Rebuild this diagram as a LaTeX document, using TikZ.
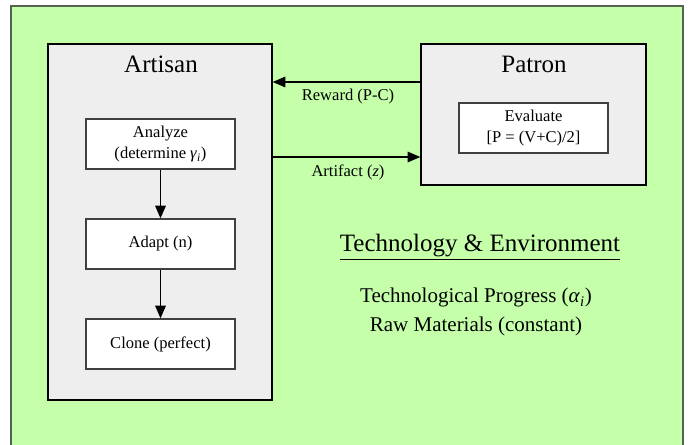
\documentclass[tikz,border=0pt]{standalone}
\usepackage{fontspec}
\setmainfont{Liberation Serif}
\usetikzlibrary{arrows.meta,fit}
\definecolor{envgreen}{RGB}{197,255,170}
\definecolor{panelgray}{RGB}{238,238,238}
\definecolor{envborder}{RGB}{85,100,80}
\newcommand\titlefnt{\fontsize{18.75}{22}\selectfont}
\newcommand\midfnt{\fontsize{15.75}{18.75}\selectfont}
\newcommand\smallfnt{\fontsize{12.4}{15}\selectfont}
\begin{document}
\begin{tikzpicture}[x=0.75pt,y=-0.75pt,
  envbox/.style={draw=envborder, line width=1.5pt, fill=envgreen, inner sep=0pt},
  panel/.style={draw=black, line width=1.1pt, fill=panelgray, inner sep=0pt},
  stepbox/.style={draw=black!75, line width=1pt, fill=white, inner sep=0pt, align=center, font=\smallfnt},
  arr/.style={-{Triangle[length=9.5pt,width=8pt]}, line width=0.8pt},
  lbl/.style={font=\smallfnt, inner sep=0pt},
  ttl/.style={font=\titlefnt, inner sep=0pt},
]
\useasboundingbox (0,0) rectangle (688,445);
\clip (0,0) rectangle (688,445);
\node[envbox, fit={(11,6) (683,455)}] (env) {};
% panels
\node[panel, fit={(48,44) (272,400)}] (artisan) {};
\node[panel, fit={(421,44) (646,185)}] (patron) {};
\node[ttl] (artisanT) at (161,64) {Artisan};
\node[ttl] (patronT) at (534,64) {Patron};
% steps
\node[stepbox, fit={(86,119) (235,169)}] (analyzeB) {};
\node[lbl, align=center] (analyze) at (analyzeB.center) {Analyze\\[1pt](determine \textit{γ}\textsubscript{\textit{i}})};
\node[stepbox, fit={(86,219) (235,269)}] (adaptB) {};
\node[lbl] (adapt) at (adaptB.center) {Adapt (n)};
\node[stepbox, fit={(86,319) (235,369)}] (cloneB) {};
\node[lbl] (clone) at (cloneB.center) {Clone (perfect)};
\node[stepbox, fit={(459,103) (608,153)}] (evalB) {};
\node[lbl, align=center] (eval) at (evalB.center) {Evaluate\\[1pt][P = (V+C)/2]};
% connectors
\draw[arr] (analyzeB) -- (adaptB);
\draw[arr] (adaptB) -- (cloneB);
\coordinate (ry) at (0,82);
\coordinate (ay) at (0,157);
\draw[arr] (patron.west |- ry) -- (artisan.east |- ry);
\draw[arr] (artisan.east |- ay) -- (patron.west |- ay);
\node[lbl] (reward) at (348,97) {Reward (P-C)};
\node[lbl] (artifact) at (348,172) {Artifact (\textit{z})};
% environment text
\node[ttl] (tech) at (480,247) {\underline{Technology \& Environment}};
\node[font=\midfnt, inner sep=0pt, align=center] (techp) at (476,312) {Technological Progress (\textit{α}\textsubscript{\textit{i}})\\[2.5pt]Raw Materials (constant)};
\end{tikzpicture}
\end{document}
